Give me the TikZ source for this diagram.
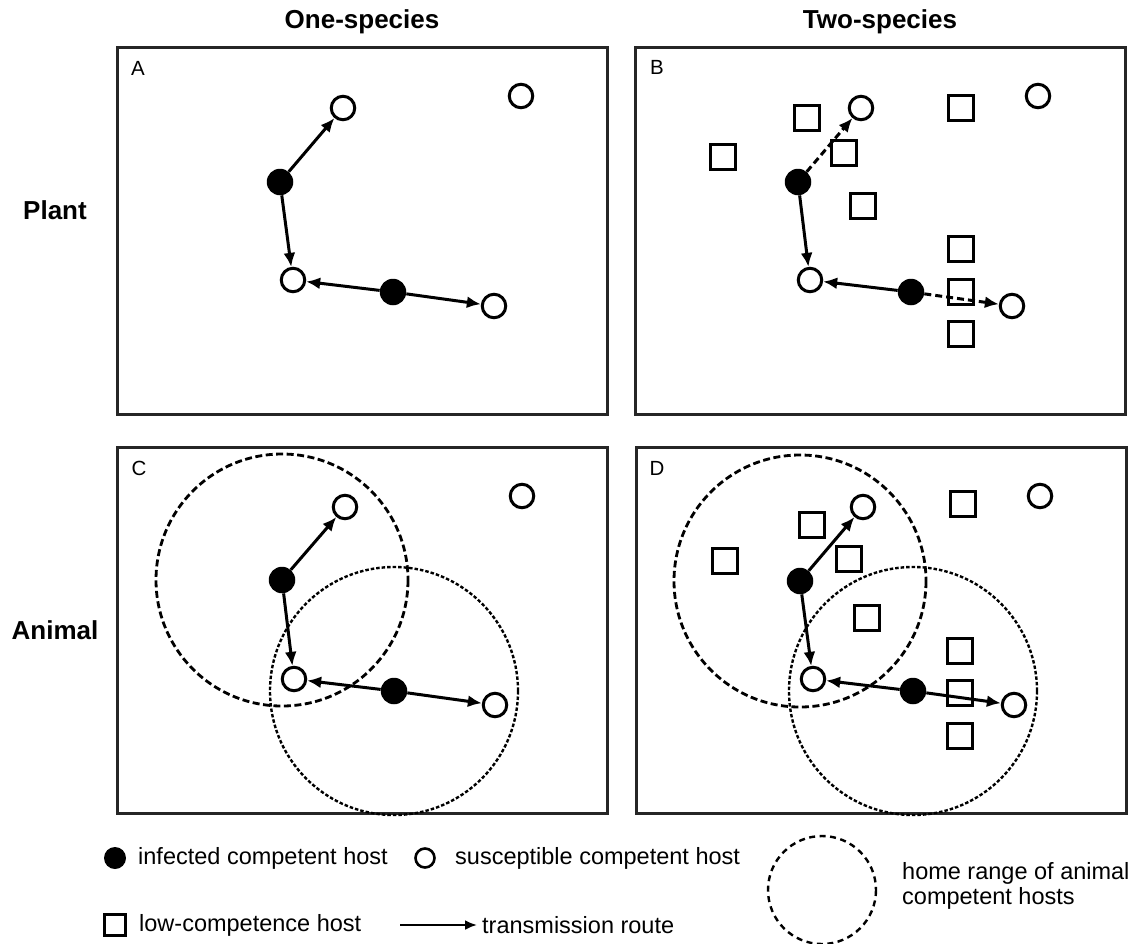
\documentclass[tikz,border=0pt]{standalone}
\usepackage{fontspec}
\setmainfont{Liberation Sans}
\usepackage{tikz}
\usetikzlibrary{arrows.meta}
\tikzset{%
  inf/.style={circle,fill=black,minimum size=26.5pt,inner sep=0pt}}
\tikzset{%
  sus/.style={circle,draw=black,fill=white,line width=3pt,minimum size=23.5pt,inner sep=0pt}}
\tikzset{%
  low/.style={rectangle,draw=black,line width=2.7pt,minimum size=24.5pt,inner sep=0pt}}
\tikzset{%
  route/.style={line width=3pt,-{Latex[length=14pt,width=12pt]}},
  weak/.style={dash pattern=on 7pt off 4pt}}
\tikzset{%
  panel/.style={draw=black!85,line width=3pt},
  tag/.style={font=\fontsize{20.5}{20.5}\selectfont},
  head/.style={font=\bfseries\fontsize{26}{26}\selectfont},
  keytext/.style={anchor=west,inner sep=0pt,font=\fontsize{23.5}{25}\selectfont}}
\tikzset{%
  homea/.style={line width=2.8pt,dash pattern=on 7pt off 3.5pt},
  homeb/.style={line width=2.4pt,dash pattern=on 3.5pt off 2pt}}

\begin{document}
\begin{tikzpicture}[x=1pt,y=-1pt]
\useasboundingbox (0,0) rectangle (1139,943);
\node[head] (one) at (362,22) {One-species};
\node[head] (two) at (880,22) {Two-species};
\node[head] (plant) at (55,210) {Plant};
\node[head] (animal) at (55,630) {Animal};

\draw[panel] (117,47) rectangle (607,414);
\node[tag] (tA) at (138,68) {A};
\node[sus] (As1) at (343,108) {};
\node[sus] (As2) at (521,96) {};
\node[inf] (Ai1) at (280,182) {};
\node[sus] (As3) at (293,280) {};
\node[inf] (Ai2) at (393,292) {};
\node[sus] (As4) at (494,306) {};
\draw[route] (Ai1) -- (As1);
\draw[route] (Ai1) -- (As3);
\draw[route] (Ai2) -- (As3);
\draw[route] (Ai2) -- (As4);

\draw[panel] (635,47) rectangle (1125,414);
\node[tag] (tB) at (657,67) {B};
\node[low] (Bl1) at (807,118) {};
\node[low] (Bl2) at (723,157) {};
\node[low] (Bl3) at (844,153) {};
\node[low] (Bl4) at (863,206) {};
\node[low] (Bl5) at (961,108) {};
\node[low] (Bl6) at (961,249) {};
\node[low] (Bl7) at (961,292) {};
\node[low] (Bl8) at (961,334) {};
\node[sus] (Bs1) at (861,108) {};
\node[sus] (Bs2) at (1038,96) {};
\node[inf] (Bi1) at (798,182) {};
\node[sus] (Bs3) at (810,280) {};
\node[inf] (Bi2) at (911,292) {};
\node[sus] (Bs4) at (1012,306) {};
\draw[route,weak] (Bi1) -- (Bs1);
\draw[route] (Bi1) -- (Bs3);
\draw[route] (Bi2) -- (Bs3);
\draw[route,weak] (Bi2) -- (Bs4);

\draw[panel] (117,447) rectangle (607,813);
\node[tag] (tC) at (139,468) {C};
\draw[homea] (282,580) circle (126);
\draw[homeb] (394,691) circle (124);
\node[sus] (Cs1) at (345,507) {};
\node[sus] (Cs2) at (522,496) {};
\node[inf] (Ci1) at (282,580) {};
\node[sus] (Cs3) at (294,679) {};
\node[inf] (Ci2) at (394,691) {};
\node[sus] (Cs4) at (495,705) {};
\draw[route] (Ci1) -- (Cs1);
\draw[route] (Ci1) -- (Cs3);
\draw[route] (Ci2) -- (Cs3);
\draw[route] (Ci2) -- (Cs4);

\draw[panel] (636,447) rectangle (1126,813);
\node[tag] (tD) at (657,468) {D};
\draw[homea] (800,581) circle (126);
\draw[homeb] (913,691) circle (124);
\node[low] (Dl1) at (812,525) {};
\node[low] (Dl2) at (725,561) {};
\node[low] (Dl3) at (849,559) {};
\node[low] (Dl4) at (867,618) {};
\node[low] (Dl5) at (963,504) {};
\node[low] (Dl6) at (960,651) {};
\node[low] (Dl7) at (960,693) {};
\node[low] (Dl8) at (960,736) {};
\node[sus] (Ds1) at (863,507) {};
\node[sus] (Ds2) at (1040,496) {};
\node[inf] (Di1) at (800,581) {};
\node[sus] (Ds3) at (813,679) {};
\node[inf] (Di2) at (913,691) {};
\node[sus] (Ds4) at (1014,705) {};
\draw[route] (Di1) -- (Ds1);
\draw[route] (Di1) -- (Ds3);
\draw[route] (Di2) -- (Ds3);
\draw[route] (Di2) -- (Ds4);

\node[inf,minimum size=22pt] (kinf) at (115,858) {};
\node[keytext] (kinft) at (138,858) {infected competent host};
\node[sus,minimum size=19pt,line width=2.6pt] (ksus) at (425,858) {};
\node[keytext] (ksust) at (455,858) {susceptible competent host};
\node[low,minimum size=21pt,line width=2.4pt] (klow) at (115,925) {};
\node[keytext] (klowt) at (139,925) {low-competence host};
\coordinate (kra) at (400,925);
\coordinate (krb) at (477,925);
\draw[line width=2.4pt,-{Latex[length=12pt,width=10pt]}] (kra) -- (krb);
\node[keytext] (krt) at (482,925) {transmission route};
\draw[homea,line width=2.4pt,dash pattern=on 6pt off 4.5pt] (822,890) circle (54);
\node[keytext,align=left] (kran) at (902,886) {home range of animal\\competent hosts};
\end{tikzpicture}
\end{document}
